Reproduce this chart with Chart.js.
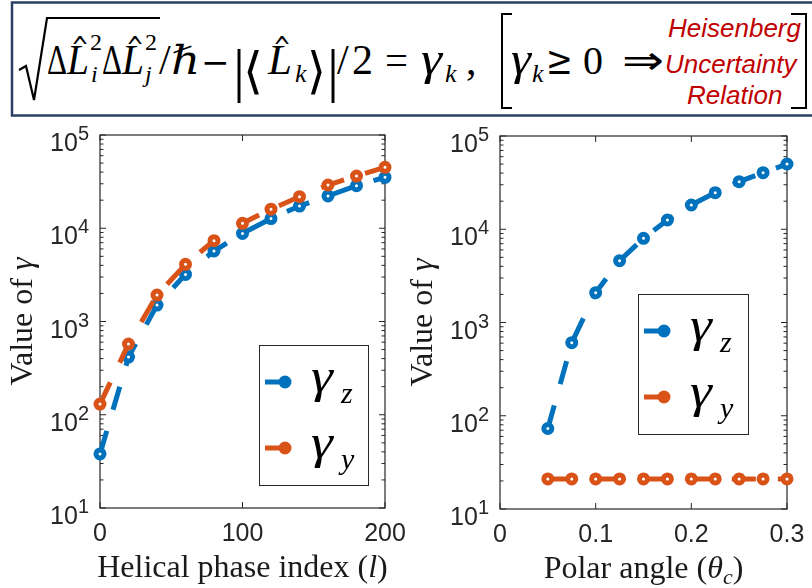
<!DOCTYPE html>
<html>
<head>
<meta charset="utf-8">
<script src="https://cdn.jsdelivr.net/npm/chart.js@4"></script>
<style>
  html, body { margin: 0; padding: 0; background: #fff; }
  #wrap { position: relative; width: 812px; height: 588px; overflow: hidden; }
  .panel { position: absolute; top: 120px; width: 412px; height: 468px; }
  #hdr { position: absolute; left: 0; top: 0; }
</style>
</head>
<body>
<div id="wrap">
  <svg id="hdr" width="812" height="120" xmlns="http://www.w3.org/2000/svg">
    <rect x="12" y="2.5" width="820" height="113" fill="#fff" stroke="#2b3f66" stroke-width="2.5"/>
    <polyline points="19,70 26,66 34,100 47,18 160,18" fill="none" stroke="#000" stroke-width="2.2" stroke-linejoin="miter"/>
    <g font-family="'Liberation Serif', 'DejaVu Serif', serif" fill="#000">
      <text x="47" y="74" font-size="42" textLength="20" lengthAdjust="spacingAndGlyphs">Δ</text>
      <text x="67" y="74" font-size="42" font-style="italic" textLength="22" lengthAdjust="spacingAndGlyphs">L</text>
      <text x="71" y="57" font-size="28" font-family="'DejaVu Sans'" textLength="18" lengthAdjust="spacingAndGlyphs">^</text>
      <text x="90" y="50" font-size="24">2</text>
      <text x="91" y="82" font-size="24" font-style="italic">i</text>
      <text x="102" y="74" font-size="42" textLength="20" lengthAdjust="spacingAndGlyphs">Δ</text>
      <text x="122" y="74" font-size="42" font-style="italic" textLength="22" lengthAdjust="spacingAndGlyphs">L</text>
      <text x="126" y="57" font-size="28" font-family="'DejaVu Sans'" textLength="18" lengthAdjust="spacingAndGlyphs">^</text>
      <text x="145" y="50" font-size="24">2</text>
      <text x="145" y="82" font-size="24" font-style="italic">j</text>
      <text x="159" y="74" font-size="42">/</text>
      <text x="171" y="74" font-size="40" font-family="'DejaVu Serif'" textLength="29" lengthAdjust="spacingAndGlyphs">ℏ</text>
      <text x="201" y="74" font-size="34" font-family="'DejaVu Sans'">−</text>
      <text x="233" y="90" font-size="60">|</text>
      <text x="243" y="88" font-size="50" font-family="'DejaVu Serif'" textLength="20" lengthAdjust="spacingAndGlyphs">⟨</text>
      <text x="268" y="74" font-size="42" font-style="italic" textLength="24" lengthAdjust="spacingAndGlyphs">L</text>
      <text x="273" y="57" font-size="28" font-family="'DejaVu Sans'" textLength="18" lengthAdjust="spacingAndGlyphs">^</text>
      <text x="295" y="82" font-size="26" font-style="italic">k</text>
      <text x="307" y="88" font-size="50" font-family="'DejaVu Serif'" textLength="19" lengthAdjust="spacingAndGlyphs">⟩</text>
      <text x="327" y="90" font-size="60">|</text>
      <text x="337" y="74" font-size="42">/</text>
      <text x="352" y="74" font-size="42">2</text>
      <text x="385" y="74" font-size="42" textLength="23" lengthAdjust="spacingAndGlyphs">=</text>
      <text x="421" y="74" font-size="46" font-style="italic" textLength="21" lengthAdjust="spacingAndGlyphs">γ</text>
      <text x="445" y="82" font-size="26" font-style="italic">k</text>
      <text x="466" y="74" font-size="42">,</text>
      <text x="511" y="74" font-size="46" font-style="italic" textLength="20" lengthAdjust="spacingAndGlyphs">γ</text>
      <text x="532" y="82" font-size="26" font-style="italic">k</text>
      <text x="546" y="74" font-size="40" font-family="'DejaVu Serif'" textLength="27" lengthAdjust="spacingAndGlyphs">≥</text>
      <text x="583" y="74" font-size="40">0</text>
      <text x="622" y="74" font-size="40" font-family="'DejaVu Sans'" textLength="42" lengthAdjust="spacingAndGlyphs">⇒</text>
    </g>
    <polyline points="512,14 502,14 502,108 512,108" fill="none" stroke="#000" stroke-width="2"/>
    <polyline points="791,14 806,14 806,108 791,108" fill="none" stroke="#000" stroke-width="2"/>
    <g font-family="'Liberation Sans', Arial, sans-serif" font-style="italic" font-size="26" fill="#c00000">
      <text x="668" y="37">Heisenberg</text>
      <text x="665" y="73">Uncertainty</text>
      <text x="687" y="104">Relation</text>
    </g>
  </svg>
  <div class="panel" style="left:0px"><canvas id="c1"></canvas></div>
  <div class="panel" style="left:400px"><canvas id="c2"></canvas></div>
</div>
<script>
// ---------- data ----------
const helicalIndex = [0, 20, 40, 60, 80, 100, 120, 140, 160, 180, 200];
const gammaZHelical = [38, 415, 1500, 3200, 5700, 8800, 12700, 17300, 22200, 28600, 35200];
const gammaYHelical = [130, 574, 1920, 4100, 7360, 11300, 16000, 21800, 29100, 36300, 45000];

const polarAngle = [0.05, 0.075, 0.1, 0.125, 0.15, 0.175, 0.2, 0.225, 0.25, 0.275, 0.3];
const gammaZPolar = [73, 608, 2090, 4600, 8000, 12570, 18200, 24700, 32400, 40400, 50100];
const gammaYPolar = [21, 21, 21, 21, 21, 21, 21, 21, 21, 21, 21];

const xTicksHelical = [0, 100, 200];
const xTickLabelsHelical = ['0', '100', '200'];
const xTicksPolar = [0, 0.1, 0.2, 0.3];
const xTickLabelsPolar = ['0', '0.1', '0.2', '0.3'];
const yTicks = [10, 100, 1000, 10000, 100000];
const yTickBase = '10';
const yTickExponents = ['1', '2', '3', '4', '5'];
const seriesSubscripts = ['z', 'y'];
const seriesColors = ['#0072BD', '#D95319'];

// ---------- helpers ----------
function mixedText(ctx, segs, x, y, align) {
  let w = 0;
  for (const s of segs) { ctx.font = s.f; w += ctx.measureText(s.t).width; }
  let cx = align === 'center' ? x - w / 2 : (align === 'right' ? x - w : x);
  for (const s of segs) {
    ctx.font = s.f;
    ctx.fillText(s.t, cx, y + (s.dy || 0));
    cx += ctx.measureText(s.t).width;
  }
}

const SANS = '"Liberation Sans", Arial, sans-serif';
const SERIF = '"Liberation Serif", "DejaVu Serif", serif';

const decor = {
  id: 'decor',
  beforeDatasetsDraw(chart, args, o) {
    const ctx = chart.ctx, a = chart.chartArea, x = chart.scales.x, y = chart.scales.y;
    ctx.save();
    ctx.strokeStyle = '#262626';
    ctx.lineWidth = 1.2;
    ctx.strokeRect(a.left, a.top, a.right - a.left, a.bottom - a.top);
    ctx.lineWidth = 1;
    ctx.beginPath();
    yTicks.forEach((v, d) => {
      const py = y.getPixelForValue(v);
      ctx.moveTo(a.left, py); ctx.lineTo(a.left + 6, py);
      ctx.moveTo(a.right, py); ctx.lineTo(a.right - 6, py);
      if (d < yTicks.length - 1) {
        for (let m = 2; m < 10; m++) {
          const pm = y.getPixelForValue(v * m);
          ctx.moveTo(a.left, pm); ctx.lineTo(a.left + 3.5, pm);
          ctx.moveTo(a.right, pm); ctx.lineTo(a.right - 3.5, pm);
        }
      }
    });
    o.xTicks.forEach(v => {
      const px = x.getPixelForValue(v);
      ctx.moveTo(px, a.bottom); ctx.lineTo(px, a.bottom - 6);
      ctx.moveTo(px, a.top); ctx.lineTo(px, a.top + 6);
    });
    ctx.stroke();

    ctx.fillStyle = '#262626';
    ctx.textBaseline = 'alphabetic';
    ctx.textAlign = 'left';
    yTicks.forEach((v, i) => {
      const py = y.getPixelForValue(v);
      mixedText(ctx, [
        { t: yTickBase, f: '25px ' + SANS },
        { t: yTickExponents[i], f: '20px ' + SANS, dy: -11 }
      ], a.left - 11, py + 16, 'right');
    });
    o.xTicks.forEach((v, i) => {
      const px = x.getPixelForValue(v);
      mixedText(ctx, [{ t: o.xLabels[i], f: '25px ' + SANS }], px, a.bottom + 33, 'center');
    });
    // axis titles
    ctx.fillStyle = '#1a1a1a';
    mixedText(ctx, o.xTitle, (a.left + a.right) / 2, a.bottom + 69, 'center');
    ctx.save();
    ctx.translate(a.left - 68, (a.top + a.bottom) / 2);
    ctx.rotate(-Math.PI / 2);
    mixedText(ctx, o.yTitle, 0, 0, 'center');
    ctx.restore();
    ctx.restore();
  },
  afterDatasetsDraw(chart, args, o) {
    const ctx = chart.ctx, L = o.legend;
    ctx.save();
    ctx.fillStyle = '#fff';
    ctx.fillRect(L.x, L.y, L.w, L.h);
    ctx.strokeStyle = '#262626';
    ctx.lineWidth = 1;
    ctx.strokeRect(L.x + 0.5, L.y + 0.5, L.w, L.h);
    const rows = [L.y + 37, L.y + 103];
    rows.forEach((ry, i) => {
      ctx.strokeStyle = seriesColors[i];
      ctx.lineWidth = 5;
      ctx.beginPath();
      ctx.moveTo(L.x + 6, ry); ctx.lineTo(L.x + 26, ry);
      ctx.stroke();
      ctx.fillStyle = seriesColors[i];
      ctx.beginPath();
      ctx.arc(L.x + 26, ry, 6.5, 0, Math.PI * 2);
      ctx.fill();
      ctx.fillStyle = '#000';
      ctx.textBaseline = 'alphabetic';
      ctx.textAlign = 'left';
      ctx.save();
      ctx.translate(L.x + 52, ry + 10);
      ctx.scale(1.15, 1);
      ctx.font = 'italic 48px ' + SERIF;
      ctx.fillText('γ', 0, 0);
      ctx.restore();
      ctx.font = 'italic 30px ' + SERIF;
      ctx.fillText(seriesSubscripts[i], L.x + 82, ry + 21);
    });
    ctx.restore();
  }
};

function ds(xs, ys, color, order) {
  return {
    data: xs.map((v, i) => ({ x: v, y: ys[i] })),
    borderColor: color,
    backgroundColor: '#fff',
    pointBackgroundColor: '#fff',
    pointBorderColor: color,
    borderWidth: 5,
    borderDash: [24, 22],
    pointRadius: 4,
    pointBorderWidth: 5,
    pointHoverRadius: 4,
    tension: 0,
    clip: false,
    order: order
  };
}

function makeChart(id, xs, zs, ys, xmin, xmax, xTicks, xLabels, xTitle, legend, pad, xh) {
  return new Chart(document.getElementById(id), {
    type: 'line',
    data: {
      datasets: [ds(xs, zs, seriesColors[0], 1), ds(xs, ys, seriesColors[1], 0)]
    },
    options: {
      animation: false,
      responsive: true,
      maintainAspectRatio: false,
      layout: { padding: pad },
      scales: {
        x: {
          type: 'linear', min: xmin, max: xmax,
          ticks: { display: false }, grid: { display: false }, border: { display: false },
          afterBuildTicks: s => { s.ticks = xTicks.map(v => ({ value: v })); },
          afterFit: s => { s.height = xh; }
        },
        y: {
          type: 'logarithmic', min: 10, max: 100000,
          ticks: { display: false }, grid: { display: false }, border: { display: false },
          afterBuildTicks: s => { s.ticks = yTicks.map(v => ({ value: v })); },
          afterFit: s => { s.width = 100; }
        }
      },
      plugins: {
        legend: { display: false },
        tooltip: { enabled: false },
        decor: {
          xTicks: xTicks, xLabels: xLabels, xTitle: xTitle,
          yTitle: [
            { t: 'Value of ', f: '32px ' + SERIF },
            { t: 'γ', f: 'italic 32px ' + SERIF }
          ],
          legend: legend
        }
      }
    },
    plugins: [decor]
  });
}

makeChart('c1', helicalIndex, gammaZHelical, gammaYHelical, 0, 200,
  xTicksHelical, xTickLabelsHelical,
  [
    { t: 'Helical phase index (', f: '32px ' + SERIF },
    { t: 'l', f: 'italic 32px ' + SERIF },
    { t: ')', f: '32px ' + SERIF }
  ],
  { x: 259, y: 225, w: 109, h: 140 },
  { top: 15, right: 27, left: 0, bottom: 0 }, 80);

makeChart('c2', polarAngle, gammaZPolar, gammaYPolar, 0, 0.3,
  xTicksPolar, xTickLabelsPolar,
  [
    { t: 'Polar angle (', f: '32px ' + SERIF },
    { t: 'θ', f: 'italic 32px ' + SERIF },
    { t: 'c', f: 'italic 22px ' + SERIF, dy: 6 },
    { t: ')', f: '32px ' + SERIF }
  ],
  { x: 238, y: 174, w: 110, h: 140 },
  { top: 16, right: 25, left: 0, bottom: 0 }, 79);
</script>
</body>
</html>
